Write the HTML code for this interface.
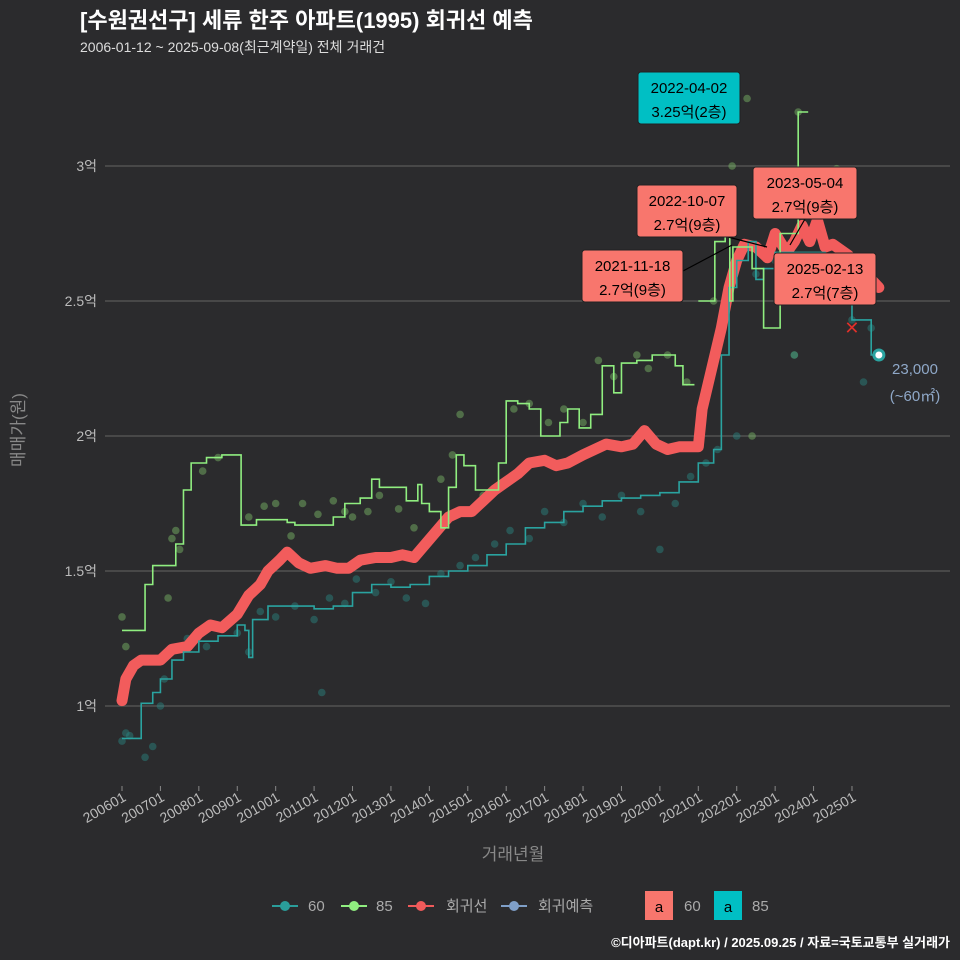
<!DOCTYPE html>
<html><head><meta charset="utf-8"><style>
body{margin:0;background:#2b2b2d;}
svg{display:block;font-family:"Liberation Sans","Noto Sans CJK KR",sans-serif;}
</style></head><body>
<svg id="c" width="960" height="960" viewBox="0 0 960 960">
<rect width="960" height="960" fill="#2b2b2d"/>
<text x="80" y="28" fill="#fff" font-size="22" font-weight="bold">[수원권선구] 세류 한주 아파트(1995) 회귀선 예측</text>
<text x="80" y="52" fill="#ddd" font-size="14">2006-01-12 ~ 2025-09-08(최근계약일) 전체 거래건</text>
<g id="grid"></g><g id="marks"></g><g id="ann"></g>
<text transform="translate(24,430) rotate(-90)" fill="#888" font-size="17" text-anchor="middle">매매가(원)</text>
<text x="513" y="860" fill="#888" font-size="17" text-anchor="middle">거래년월</text>
<g font-size="15" fill="#aaa">
<g><line x1="272" y1="906" x2="298" y2="906" stroke="#2a9d9a" stroke-width="2"/><circle cx="285" cy="906" r="5" fill="#2a9d9a"/><text x="308" y="911">60</text></g>
<g><line x1="341" y1="906" x2="367" y2="906" stroke="#90ee80" stroke-width="2"/><circle cx="354" cy="906" r="5" fill="#90ee80"/><text x="376" y="911">85</text></g>
<g><line x1="408" y1="906" x2="434" y2="906" stroke="#f05a5a" stroke-width="2"/><circle cx="421" cy="906" r="5" fill="#f05a5a"/><text x="446" y="911">회귀선</text></g>
<g><line x1="501" y1="906" x2="527" y2="906" stroke="#7f9fc8" stroke-width="2"/><circle cx="514" cy="906" r="5" fill="#7f9fc8"/><text x="538" y="911">회귀예측</text></g>
<g><rect x="645" y="891" width="28" height="29" fill="#f8766d"/><text x="659" y="912" fill="#000" text-anchor="middle">a</text><text x="684" y="911">60</text></g>
<g><rect x="714" y="891" width="28" height="29" fill="#00bfc4"/><text x="728" y="912" fill="#000" text-anchor="middle">a</text><text x="752" y="911">85</text></g>
</g>
<text x="950" y="947" fill="#fff" font-size="13" font-weight="bold" text-anchor="end">©디아파트(dapt.kr) / 2025.09.25 / 자료=국토교통부 실거래가</text>
</svg>
<script>
const NS="http://www.w3.org/2000/svg";
const yTicks=[1,1.5,2,2.5,3];
const yTickLabels=["1억","1.5억","2억","2.5억","3억"];
const xTickYears=[2006,2007,2008,2009,2010,2011,2012,2013,2014,2015,2016,2017,2018,2019,2020,2021,2022,2023,2024,2025];
const regT=[2006.0,2006.1,2006.3,2006.5,2007.0,2007.3,2007.7,2008.0,2008.3,2008.6,2009.0,2009.3,2009.6,2009.8,2010.1,2010.3,2010.6,2010.9,2011.3,2011.6,2011.9,2012.2,2012.6,2013.0,2013.3,2013.6,2013.9,2014.2,2014.5,2014.8,2015.1,2015.4,2015.7,2016.0,2016.3,2016.6,2017.0,2017.3,2017.6,2018.0,2018.3,2018.6,2019.0,2019.3,2019.6,2019.9,2020.2,2020.5,2020.8,2021.0,2021.1,2021.3,2021.6,2021.8,2022.0,2022.2,2022.5,2022.8,2023.0,2023.3,2023.5,2023.7,2023.9,2024.1,2024.3,2024.5,2024.9,2025.2,2025.5,2025.7];
const regV=[1.02,1.1,1.15,1.17,1.17,1.21,1.22,1.27,1.3,1.29,1.34,1.41,1.45,1.5,1.54,1.57,1.53,1.51,1.52,1.51,1.51,1.54,1.55,1.55,1.56,1.55,1.6,1.65,1.7,1.72,1.72,1.76,1.8,1.83,1.86,1.9,1.91,1.89,1.9,1.93,1.95,1.97,1.96,1.97,2.02,1.97,1.95,1.96,1.96,1.96,2.1,2.22,2.4,2.55,2.65,2.71,2.7,2.66,2.75,2.68,2.72,2.78,2.72,2.8,2.7,2.71,2.67,2.62,2.58,2.55];
const g85T=[2006.0,2006.4,2006.6,2006.8,2007.2,2007.4,2007.6,2007.8,2008.2,2008.6,2009.0,2009.1,2009.5,2010.0,2010.3,2010.5,2011.0,2011.5,2011.8,2012.2,2012.5,2012.7,2013.2,2013.4,2013.7,2013.8,2014.0,2014.3,2014.5,2014.7,2014.9,2015.2,2015.5,2015.8,2016.0,2016.3,2016.6,2016.9,2017.1,2017.4,2017.6,2017.9,2018.2,2018.5,2018.8,2019.0,2019.4,2019.8,2020.2,2020.4,2020.6,2020.9];
const g85V=[1.28,1.28,1.45,1.52,1.52,1.6,1.8,1.9,1.92,1.93,1.93,1.67,1.69,1.69,1.68,1.67,1.67,1.7,1.75,1.77,1.84,1.81,1.81,1.76,1.82,1.75,1.72,1.66,1.81,1.93,1.89,1.8,1.8,1.9,2.13,2.12,2.1,2.0,2.0,2.05,2.1,2.03,2.08,2.26,2.16,2.27,2.28,2.3,2.3,2.26,2.19,2.19];
const g85bT=[2021.0,2021.43,2021.7,2021.82,2021.9,2022.1,2022.4,2022.7,2023.13,2023.6,2023.86];
const g85bV=[2.5,2.72,2.75,2.5,2.7,2.7,2.62,2.4,2.75,3.2,3.2];
const g60T=[2006.0,2006.3,2006.5,2006.8,2007.0,2007.3,2007.6,2008.0,2008.5,2009.0,2009.2,2009.3,2009.4,2009.8,2010.5,2011.0,2011.5,2012.0,2012.5,2013.0,2013.5,2014.0,2014.5,2015.0,2015.5,2016.0,2016.5,2017.0,2017.5,2018.0,2018.5,2019.0,2019.5,2020.0,2020.5,2021.0,2021.4,2021.6,2021.8,2022.0,2022.3,2022.5,2022.7,2023.0,2023.3,2023.6,2024.0,2024.3,2024.7,2025.0,2025.3,2025.5,2025.7];
const g60V=[0.88,0.88,1.01,1.05,1.1,1.17,1.2,1.24,1.26,1.3,1.28,1.18,1.32,1.37,1.37,1.36,1.37,1.42,1.45,1.44,1.45,1.48,1.5,1.52,1.56,1.6,1.66,1.68,1.72,1.74,1.76,1.77,1.78,1.79,1.83,1.9,1.95,2.3,2.55,2.65,2.72,2.58,2.62,2.68,2.68,2.68,2.68,2.62,2.5,2.43,2.43,2.3,2.3];
const pts85T=[2006.0,2006.1,2007.2,2007.3,2007.4,2007.5,2008.1,2008.5,2009.3,2009.7,2010.0,2010.4,2010.7,2011.1,2011.5,2011.8,2012.0,2012.4,2012.7,2013.2,2013.6,2014.3,2014.6,2014.8,2015.4,2016.2,2016.6,2017.1,2017.5,2018.0,2018.4,2018.8,2019.4,2019.7,2020.2,2020.7,2021.4,2021.88,2022.27,2022.4,2023.3,2023.5,2023.6,2024.6];
const pts85V=[1.33,1.22,1.4,1.62,1.65,1.58,1.87,1.92,1.7,1.74,1.75,1.63,1.75,1.71,1.76,1.72,1.7,1.72,1.78,1.73,1.66,1.84,1.93,2.08,1.78,2.1,2.12,2.05,2.1,2.05,2.28,2.22,2.3,2.25,2.3,2.2,2.5,3.0,3.25,2.0,2.5,2.3,3.2,2.99];
const pts60T=[2006.0,2006.1,2006.2,2006.6,2006.8,2007.0,2007.1,2007.3,2007.7,2008.2,2008.6,2009.0,2009.3,2009.6,2010.0,2010.5,2011.0,2011.2,2011.4,2011.8,2012.1,2012.6,2013.0,2013.4,2013.9,2014.3,2014.8,2015.2,2015.7,2016.1,2016.6,2017.0,2017.5,2018.0,2018.5,2019.0,2019.5,2020.0,2020.4,2020.8,2021.2,2021.5,2022.0,2022.5,2023.0,2023.5,2024.5,2025.0,2025.3,2025.5];
const pts60V=[0.87,0.9,0.89,0.81,0.85,1.0,1.1,1.2,1.25,1.22,1.3,1.27,1.2,1.35,1.33,1.37,1.32,1.05,1.4,1.38,1.47,1.42,1.46,1.4,1.38,1.49,1.52,1.55,1.6,1.65,1.62,1.72,1.68,1.75,1.7,1.78,1.72,1.58,1.75,1.85,1.9,1.95,2.0,2.6,2.65,2.3,2.7,2.43,2.2,2.4];
const X=t=>122+(t-2006)*38.42, Y=v=>706-(v-1)*270;
function el(tag,attrs,parent){const e=document.createElementNS(NS,tag);for(const k in attrs)e.setAttribute(k,attrs[k]);parent.appendChild(e);return e;}
const grid=document.getElementById('grid'),marks=document.getElementById('marks'),ann=document.getElementById('ann');
yTicks.forEach((v,i)=>{
 const l=el('line',{x1:105,x2:950,y1:Y(v),y2:Y(v),stroke:'#5a5a5a','stroke-width':1.2},grid);
 
 
 const t=el('text',{x:97,y:Y(v)+5,fill:'#bbb','font-size':14,'text-anchor':'end'},grid);t.textContent=yTickLabels[i];
 
 
});
xTickYears.forEach(yr=>{
 const x=X(yr);
 const tk=el('line',{x1:x,x2:x,y1:786,y2:791,stroke:'#888'},grid);
 
 
 const t=el('text',{transform:`translate(${x+5},${800}) rotate(-30)`,fill:'#bbb','font-size':14,'text-anchor':'end'},grid);t.textContent=yr+'01';
 
 
});
function pts(T,V,color,name){T.forEach((t,i)=>{const c=el('circle',{cx:X(t),cy:Y(V[i]),r:3.8,fill:color,opacity:0.45},marks);
 
 });}
pts(pts85T,pts85V,'#7fbf6a','point-85');
pts(pts60T,pts60V,'#2a8a86','point-60');
function stepPath(T,V){let d='M'+X(T[0])+','+Y(V[0]);for(let i=1;i<T.length;i++){d+='H'+X(T[i])+'V'+Y(V[i]);}return d;}
function linePath(T,V){return T.map((t,i)=>(i?'L':'M')+X(t)+','+Y(V[i])).join('');}
let p=el('path',{d:linePath(regT,regV),fill:'none',stroke:'#f25c5c','stroke-width':11,'stroke-linejoin':'round','stroke-linecap':'round'},marks);


p=el('path',{d:stepPath(g60T,g60V),fill:'none',stroke:'#2aa3a0','stroke-width':1.6},marks);


p=el('path',{d:stepPath(g85T,g85V),fill:'none',stroke:'#90ee80','stroke-width':1.6},marks);


p=el('path',{d:stepPath(g85bT,g85bV),fill:'none',stroke:'#90ee80','stroke-width':1.6},marks);


const endT=2025.7,endV=2.3;
const ec=el('circle',{cx:X(endT),cy:Y(endV),r:5,fill:'#fff',stroke:'#2aa3a0','stroke-width':3},marks);


const xm=el('text',{x:X(2025.0),y:Y(2.4)+6,fill:'#e0302a','font-size':18,'text-anchor':'middle'},marks);xm.textContent='✕';


const lt=el('text',{x:915,y:374,fill:'#8fa8c8','font-size':15,'text-anchor':'middle'},ann);lt.textContent='23,000';


const lt2=el('text',{x:915,y:401,fill:'#8fa8c8','font-size':15,'text-anchor':'middle'},ann);lt2.textContent='(~60㎡)';


const boxes=[[638,72,102,'#00bfc4','2022-04-02','3.25억(2층)',null],[637,185,100,'#f8766d','2022-10-07','2.7억(9층)',[728,237,767,247]],[582,250,101,'#f8766d','2021-11-18','2.7억(9층)',[683,271,732,245]],[753,167,104,'#f8766d','2023-05-04','2.7억(9층)',[805,219,790,245]],[774,253,102,'#f8766d','2025-02-13','2.7억(7층)',null]];
boxes.forEach(b=>{
 if(b[6]){const l=el('line',{x1:b[6][0],y1:b[6][1],x2:b[6][2],y2:b[6][3],stroke:'#000','stroke-width':1.2},ann);
 
 }
 const g=el('g',{},ann);
 
 
 el('rect',{x:b[0],y:b[1],width:b[2],height:52,rx:3,fill:b[3],stroke:'#222'},g);
 const t1=el('text',{x:b[0]+b[2]/2,y:b[1]+21,'font-size':15,'text-anchor':'middle',fill:'#000'},g);t1.textContent=b[4];
 const t2=el('text',{x:b[0]+b[2]/2,y:b[1]+45,'font-size':15,'text-anchor':'middle',fill:'#000'},g);t2.textContent=b[5];
});
</script>
</body></html>
